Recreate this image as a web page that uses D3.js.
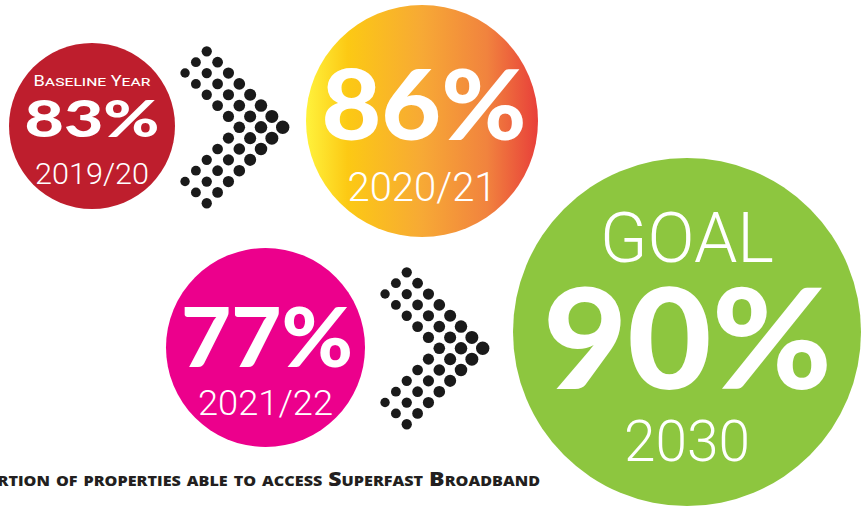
<!DOCTYPE html>
<html>
<head>
<meta charset="utf-8">
<script src="https://cdn.jsdelivr.net/npm/d3@7"></script>
<style>
  html, body { margin: 0; padding: 0; background: #fff; }
  svg { display: block; }
</style>
</head>
<body>
<svg id="chart" width="867" height="506"></svg>
<script>
// data
const periods = ["2019/20", "2020/21", "2021/22", "2030"];
const shares = [83, 86, 77, 90];
const headers = ["Baseline Year", "", "", "GOAL"];
const caption = "Proportion of properties able to access Superfast Broadband";

// layout (one entry per bubble)
const bubbles = [
    {cx: 92, cy: 126, r: 83, fill: "#be1e2d", head: {dy: -40, size: 14, w: 117}, val: {dy: 11, size: 51, w: 135}, per: {dy: 58, size: 29, w: 114}},
    {cx: 422, cy: 121, r: 116, fill: "url(#orangeGrad)", head: null, val: {dy: 19, size: 97, w: 205, dx: 2}, per: {dy: 80, size: 40, w: 149}},
    {cx: 265.5, cy: 347.5, r: 99.5, fill: "#ec008c", head: null, val: {dy: 19.5, size: 82, w: 172, dx: 1.5}, per: {dy: 67.5, size: 35, w: 135}},
    {cx: 687, cy: 332, r: 174, fill: "#8dc63f", head: {dy: -70.3, size: 70, w: 174}, val: {dy: 57, size: 140, w: 289, dx: 0.5}, per: {dy: 128.7, size: 57, w: 126}}
];
const arrows = [{tx: 282.7, ty: 127.3}, {tx: 482.7, ty: 348.3}];

const svg = d3.select("#chart");

const defs = svg.append("defs");
const grad = defs.append("linearGradient")
    .attr("id", "orangeGrad")
    .attr("x1", "0%").attr("x2", "100%")
    .attr("y1", "0%").attr("y2", "0%");
[["0%", "#fff23c"], ["18%", "#fcc914"], ["50%", "#f7a935"], ["78%", "#f1833e"], ["100%", "#e83f3a"]]
    .forEach(s => grad.append("stop").attr("offset", s[0]).attr("stop-color", s[1]));

// arrows made of dots
const step = 10.85;
const dotR = d3.scaleLinear().domain([0, 9]).range([6.7, 4.7]);
arrows.forEach(a => {
    let dots = [];
    for (let k = 0; k < 3; k++) {
        for (let i = 0; i < 8 - k; i++) {
            const c = 2 * k + i;
            dots.push({x: a.tx - c * step, y: a.ty - i * step, c: c});
            if (i > 0) dots.push({x: a.tx - c * step, y: a.ty + i * step, c: c});
        }
    }
    svg.append("g").selectAll("circle")
        .data(dots)
        .enter()
        .append("circle")
        .attr("cx", d => d.x)
        .attr("cy", d => d.y)
        .attr("r", d => dotR(d.c))
        .attr("fill", "#1a1a1a");
});

const heavy = "Lato, 'Open Sans', sans-serif";
const light = "Roboto, 'Open Sans', sans-serif";

const node = svg.selectAll(".bubble")
    .data(bubbles.map((b, i) => Object.assign({}, b, {share: shares[i], period: periods[i], header: headers[i]})))
    .enter()
    .append("g")
    .attr("class", "bubble")
    .attr("transform", d => "translate(" + d.cx + "," + d.cy + ")");

node.append("circle")
    .attr("r", d => d.r)
    .attr("fill", d => d.fill);

node.filter(d => d.head)
    .append("text")
    .attr("y", d => d.head.dy)
    .attr("text-anchor", "middle")
    .attr("fill", "white")
    .attr("font-family", light)
    .attr("font-weight", (d, i) => d.header === "GOAL" ? 300 : 400)
    .style("font-variant", d => d.header === "GOAL" ? "normal" : "small-caps")
    .attr("font-size", d => d.head.size)
    .attr("textLength", d => d.head.w)
    .attr("lengthAdjust", "spacingAndGlyphs")
    .text(d => d.header);

node.append("text")
    .attr("x", d => d.val.dx || 0)
    .attr("y", d => d.val.dy)
    .attr("text-anchor", "middle")
    .attr("fill", "white")
    .attr("font-family", heavy)
    .attr("font-weight", 900)
    .attr("font-size", d => d.val.size)
    .attr("textLength", d => d.val.w)
    .attr("lengthAdjust", "spacingAndGlyphs")
    .text(d => d.share + "%");

node.append("text")
    .attr("y", d => d.per.dy)
    .attr("text-anchor", "middle")
    .attr("fill", "white")
    .attr("font-family", light)
    .attr("font-weight", 300)
    .attr("font-size", d => d.per.size)
    .attr("textLength", d => d.per.w)
    .attr("lengthAdjust", "spacingAndGlyphs")
    .text(d => d.period);

// caption runs off the left edge like the original crop
svg.append("text")
    .attr("x", -64)
    .attr("y", 486)
    .attr("fill", "#231f20")
    .attr("font-family", "'Open Sans', sans-serif")
    .attr("font-weight", 800)
    .attr("font-size", 20)
    .style("font-variant", "small-caps")
    .attr("textLength", 604)
    .attr("lengthAdjust", "spacingAndGlyphs")
    .text(caption);
</script>
</body>
</html>
